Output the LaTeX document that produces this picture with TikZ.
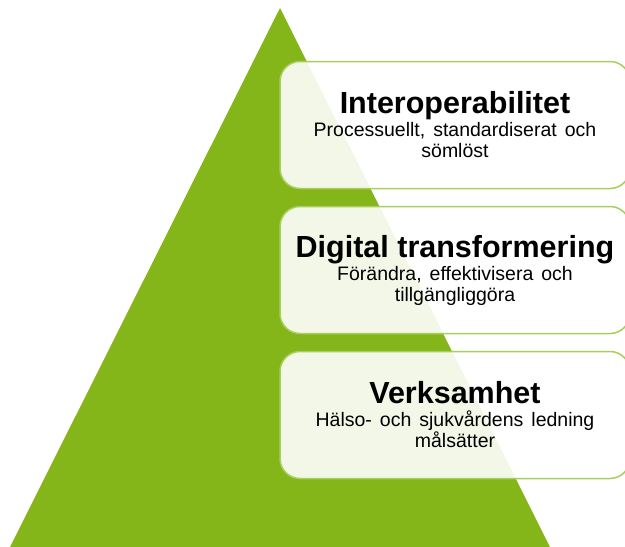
\documentclass[tikz,border=0pt]{standalone}
\usepackage{fontspec}
\setmainfont{Liberation Sans}
\usepackage{tikz}
\usetikzlibrary{positioning}
\definecolor{pyramidgreen}{RGB}{132,182,26}
\definecolor{boxline}{RGB}{168,206,92}
\newcommand{\levelheight}{127pt}
\newcommand{\levelfont}{\fontsize{19.5}{21}\selectfont\spaceskip=8pt plus 1pt}
\newcommand{\headfont}{\fontsize{30.5}{32}\selectfont\bfseries\spaceskip=0pt}

\begin{document}
\begin{tikzpicture}[x=1pt, y=-1pt, outer sep=0pt]
\tikzstyle{levelbox}=[draw=boxline, fill=white, fill opacity=0.9, text opacity=1, rectangle,
    line width=1.5pt, rounded corners=20pt, minimum height=\levelheight, minimum width=350pt,
    align=center, font=\levelfont, inner sep=0pt]
%
\useasboundingbox (0,0) rectangle (625,547);
\clip (0,0) rectangle (625,547);

% pyramid
\coordinate (apex) at (280,8);
\coordinate (baseright) at (550,547);
\coordinate (baseleft) at (10,547);
\fill[pyramidgreen] (apex) -- (baseright) -- (baseleft) -- cycle;

% levels
\node[levelbox] (interop) at (455,125) {{\headfont Interoperabilitet}\\[2pt]
    Processuellt, standardiserat och\\ sömlöst};
\node[levelbox] (digital) at (455,270) {{\headfont Digital transformering}\\[2pt]
    Förändra, effektivisera och\\ tillgängliggöra};
\node[levelbox] (business) at (455,415) {{\headfont Verksamhet}\\[2pt]
    Hälso- och sjukvårdens ledning\\ målsätter};

\end{tikzpicture}
\end{document}
